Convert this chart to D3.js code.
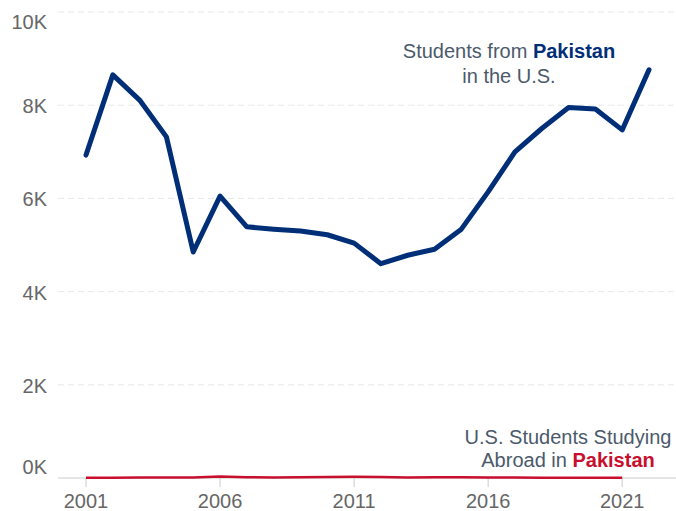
<!DOCTYPE html>
<html lang='en'>
<head>
  <meta charset='UTF-8'>
  <title>Pakistan students</title>
  <script src='https://d3js.org/d3.v7.min.js'></script>
  <style>
    body { margin: 0; background: #fff; }
    svg { display: block; font-family: 'Liberation Sans', Arial, sans-serif; }
  </style>
</head>
<body>
  <svg width='676' height='511'></svg>

  <script>
    // years and values
    var years = d3.range(2001, 2023);
    var fromPakistan = [6930, 8650, 8110, 7320, 4850, 6050, 5390, 5340, 5300, 5220, 5040,
      4600, 4780, 4910, 5340, 6140, 7000, 7500, 7950, 7920, 7470, 8760];
    var abroadYears = d3.range(2001, 2022);
    var abroadInPakistan = [5, 8, 10, 10, 12, 30, 15, 12, 15, 22, 28, 22, 12, 18, 15, 12, 10, 8, 8, 5, 5];
    var yTicks = [0, 2000, 4000, 6000, 8000, 10000];
    var xTicks = [2001, 2006, 2011, 2016, 2021];

    var svg = d3.select('svg');
    var left = 58, right = 676;

    var x = d3.scaleLinear().domain([2001, 2022]).range([86, 649]);
    var y = d3.scaleLinear().domain([0, 10000]).range([478, 12]);

    // grid
    svg.append('g').selectAll('line').data(yTicks.filter(d => d > 0))
      .enter().append('line')
        .attr('x1', left).attr('x2', right)
        .attr('y1', d => y(d)).attr('y2', d => y(d))
        .attr('stroke', '#e8e8e8')
        .attr('stroke-dasharray', '6,4');

    // y labels
    svg.append('g').selectAll('text').data(yTicks)
      .enter().append('text')
        .attr('x', 47)
        .attr('y', d => y(d) + (d === 10000 ? 10 : d === 0 ? -11 : 1))
        .attr('dy', '0.35em')
        .attr('text-anchor', 'end')
        .attr('fill', '#666')
        .attr('font-size', 20)
        .text(d => (d / 1000) + 'K');

    // x axis
    svg.append('line')
      .attr('x1', left).attr('x2', right)
      .attr('y1', y(0)).attr('y2', y(0))
      .attr('stroke', '#ccc');
    var xg = svg.append('g').selectAll('g').data(xTicks)
      .enter().append('g')
        .attr('transform', d => 'translate(' + x(d) + ',0)');
    xg.append('line')
      .attr('y1', y(0)).attr('y2', y(0) + 9)
      .attr('stroke', '#ccc');
    xg.append('text')
      .attr('y', 508)
      .attr('text-anchor', 'middle')
      .attr('fill', '#666')
      .attr('font-size', 20)
      .text(d => d);

    var line = d3.line()
      .x(d => x(d[0]))
      .y(d => y(d[1]));

    svg.append('path')
      .datum(d3.zip(abroadYears, abroadInPakistan))
      .attr('fill', 'none')
      .attr('stroke', '#c8102e')
      .attr('stroke-width', 2.5)
      .attr('d', line);

    svg.append('path')
      .datum(d3.zip(years, fromPakistan))
      .attr('fill', 'none')
      .attr('stroke', '#002f77')
      .attr('stroke-width', 5)
      .attr('stroke-linejoin', 'round')
      .attr('stroke-linecap', 'round')
      .attr('d', line);

    // annotations
    function note(cx, cy, first, bold, color) {
      var t = svg.append('text')
        .attr('x', cx).attr('y', cy)
        .attr('text-anchor', 'middle')
        .attr('fill', '#4b5a6b')
        .attr('font-size', 20);
      t.append('tspan').text(first);
      if (bold) t.append('tspan').attr('font-weight', 'bold').attr('fill', color).text(bold);
    }
    note(509, 58, 'Students from ', 'Pakistan', '#002f77');
    note(509, 83, 'in the U.S.');
    note(568, 444, 'U.S. Students Studying');
    note(568, 467, 'Abroad in ', 'Pakistan', '#c8102e');
  </script>
</body>
</html>
